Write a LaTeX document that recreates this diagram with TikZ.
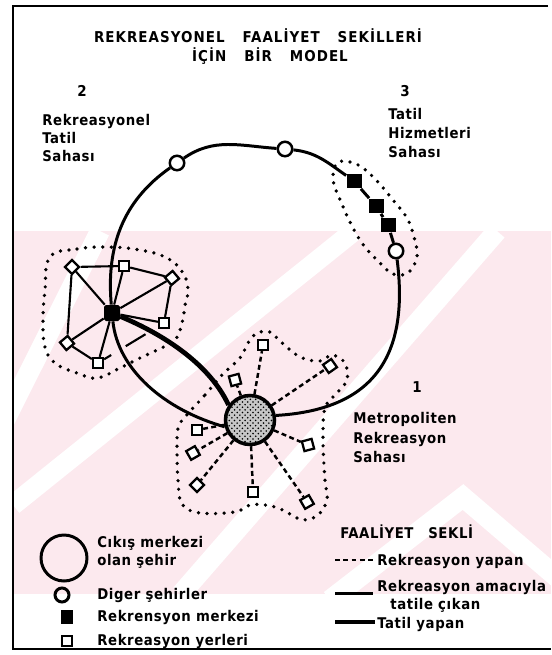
\documentclass[tikz,border=0pt]{standalone}
\usepackage{fontspec}
\newfontfamily\lab[LetterSpace=4]{DejaVu Sans Condensed}
\newfontfamily\tlab[LetterSpace=7]{DejaVu Sans Condensed}
\usetikzlibrary{patterns,calc}
\definecolor{wm}{RGB}{252,233,238}
\begin{document}
\begin{tikzpicture}[x=0.02cm,y=-0.02cm,
  txt/.style={font=\lab\bfseries\fontsize{8.4}{10}\selectfont, inner sep=0pt, anchor=base west},
  ttl/.style={font=\tlab\bfseries\fontsize{8.5}{10}\selectfont, inner sep=0pt, anchor=base},
  city/.style={circle, draw, fill=white, line width=1.4pt, minimum size=0.29cm, inner sep=0pt},
  resctr/.style={rectangle, fill=black, minimum size=0.3cm, inner sep=0pt},
  hubsq/.style={rectangle, fill=black, minimum size=0.32cm, inner sep=0pt, rounded corners=1pt},
  site/.style={rectangle, draw, fill=white, line width=1.3pt, minimum size=0.2cm, inner sep=0pt},
  metro/.style={circle, draw, line width=2pt, minimum size=0.98cm, inner sep=0pt, preaction={fill=black!22}, pattern=crosshatch dots},
  route/.style={line width=1.7pt},
  thickroute/.style={line width=2.7pt},
  spoke/.style={line width=1.2pt},
  dspoke/.style={line width=1.4pt, dash pattern=on 2.8pt off 1.9pt},
  dotline/.style={line width=2.1pt, line cap=round, dash pattern=on 0pt off 4.9pt},
  band/.style={white, line width=0.4cm},
]
\useasboundingbox (0,0) rectangle (551,655);
% watermark band
\fill[wm] (14,231) rectangle (551,594);
\begin{scope}
  \clip (14,231) rectangle (551,594);
  \draw[band] (-10,450) -- (100,231);
  \draw[band] (13,505) -- (354,231);
  \draw[band] (181,594) -- (497,231);
  \draw[band] (330,600) -- (463,497) -- (560,580);
\end{scope}
% frame
\draw[line width=1.4pt] (548,6) -- (13,6) -- (13,649) -- (551,649);
% title
\node[ttl] (t1) at (258,43) {REKREASYONEL\hspace{1.2em}FAALİYET\hspace{1.2em}SEKİLLERİ};
\node[ttl] (t2) at (270,62) {İÇİN\hspace{1.2em}BİR\hspace{1.2em}MODEL};
\node[ttl] (n2) at (82,97) {2};
\node[ttl] (n3) at (405,97) {3};
\node[ttl] (n1) at (417,392) {1};
\node[txt] (l2a) at (42,126) {Rekreasyonel};
\node[txt] (l2b) at (42,144) {Tatil};
\node[txt] (l2c) at (42,162) {Sahası};
\node[txt] (l3a) at (388,120) {Tatil};
\node[txt] (l3b) at (388,139) {Hizmetleri};
\node[txt] (l3c) at (388,158) {Sahası};
\node[txt] (l1a) at (353,423) {Metropoliten};
\node[txt] (l1b) at (353,443) {Rekreasyon};
\node[txt] (l1c) at (353,462) {Sahası};
% dotted areas
\draw[dotline] plot[smooth cycle, tension=0.7] coordinates {(50,257) (77,249) (107,247) (140,250) (167,258) (183,273) (188,290) (185,305) (182,323) (175,340) (157,350) (140,358) (120,368) (97,378) (77,373) (55,363) (45,347) (43,320) (45,290)};
\draw[dotline] plot[smooth cycle, tension=0.6] coordinates {(337,163) (350,162) (363,168) (378,182) (393,200) (407,218) (414,237) (417,257) (408,273) (393,274) (382,265) (365,247) (353,228) (341,202) (333,180)};
\draw[dotline] plot[smooth cycle, tension=0.6] coordinates {(185,417) (205,395) (222,375) (240,358) (248,343) (257,333) (270,332) (280,341) (300,357) (320,361) (332,355) (345,363) (347,380) (337,393) (325,408) (323,440) (325,480) (327,500) (318,515) (303,520) (290,514) (278,508) (265,505) (250,505) (235,512) (200,513) (182,504) (178,480) (177,450) (178,428)};
% nodes of the model
\node[city] (c1) at (177,163) {};
\node[city] (c2) at (285,149) {};
\node[resctr] (q1) at (354,181) {};
\node[resctr] (q2) at (376,206) {};
\node[resctr] (q3) at (388,225) {};
\node[city] (c3) at (396,251) {};
\node[hubsq] (hub) at (112,313) {};
\node[metro] (metro) at (250,420) {};
% sites around hub
\node[site, rotate=45] (A) at (72,267) {};
\node[site] (B) at (124,266) {};
\node[site, rotate=40] (C) at (172,278) {};
\node[site] (D) at (164,323) {};
\node[site, rotate=40] (E) at (67,343) {};
\node[site] (F) at (98,363) {};
% sites around metro
\node[site] (m1) at (263,345) {};
\node[site, rotate=15] (m2) at (235,380) {};
\node[site, rotate=35] (m3) at (330,366) {};
\node[site] (m4) at (197,430) {};
\node[site, rotate=30] (m5) at (193,453) {};
\node[site, rotate=45] (m6) at (197,485) {};
\node[site] (m7) at (253,492) {};
\node[site, rotate=15] (m8) at (308,445) {};
\node[site, rotate=30] (m9) at (307,502) {};
% main loop
\draw[route] (hub) to[out=95,in=215] (c1);
\draw[route] (c1) to[out=35,in=176] (c2);
\draw[route] (c2) to[out=-6,in=145] (q1);
\draw[route] (q1) -- (q2) -- (q3) -- (c3);
\draw[route] (c3) .. controls (410,360) and (370,410) .. (metro.10);
% hub to metro
\draw[thickroute] (hub) .. controls (165,335) and (210,365) .. (metro.145);
\draw[route] (hub) .. controls (118,370) and (165,410) .. (metro.195);
% hub network
\foreach \s in {A,B,C,D,E,F} \draw[spoke] (hub) -- (\s);
\draw[spoke] (A) -- (B) -- (C) -- (D);
\draw[spoke] (A) -- (E) -- (F);
\draw[spoke] (F) -- ($(F)!0.2!(D)$);
\draw[spoke] ($(F)!0.42!(D)$) -- ($(F)!0.72!(D)$);
% metro network
\foreach \s in {m1,m2,m3,m4,m5,m6,m7,m8,m9} \draw[dspoke] (metro) -- (\s);
% legend left
\node[circle, draw, line width=1.7pt, minimum size=0.92cm, inner sep=0pt] (lg1) at (64,558) {};
\node[circle, draw, line width=1.7pt, minimum size=0.28cm, inner sep=0pt] (lg2) at (62,595) {};
\node[rectangle, fill=black, minimum width=0.24cm, minimum height=0.28cm, inner sep=0pt] (lg3) at (67,617) {};
\node[site, line width=1.6pt] (lg4) at (67,641) {};
\node[txt] (tl1) at (97,547) {Cıkış merkezi};
\node[txt] (tl2) at (97,565) {olan şehir};
\node[txt] (tl3) at (97,599) {Diger şehirler};
\node[txt] (tl4) at (97,621) {Rekrensyon merkezi};
\node[txt] (tl5) at (97,645) {Rekreasyon yerleri};
% legend right
\node[txt] (tr0) at (340,538) {FAALİYET\hspace{1em}SEKLİ};
\coordinate (ra1) at (335,560); \coordinate (ra2) at (373,560);
\coordinate (rb1) at (335,593); \coordinate (rb2) at (373,593);
\coordinate (rc1) at (335,622); \coordinate (rc2) at (375,622);
\draw[dspoke] (ra1) -- (ra2);
\draw[route] (rb1) -- (rb2);
\draw[thickroute] (rc1) -- (rc2);
\node[txt] (tr1) at (377,565) {Rekreasyon yapan};
\node[txt] (tr2) at (377,591) {Rekreasyon amacıyla};
\node[txt] (tr3) at (390,609) {tatile çıkan};
\node[txt] (tr4) at (377,628) {Tatil yapan};
\end{tikzpicture}
\end{document}
